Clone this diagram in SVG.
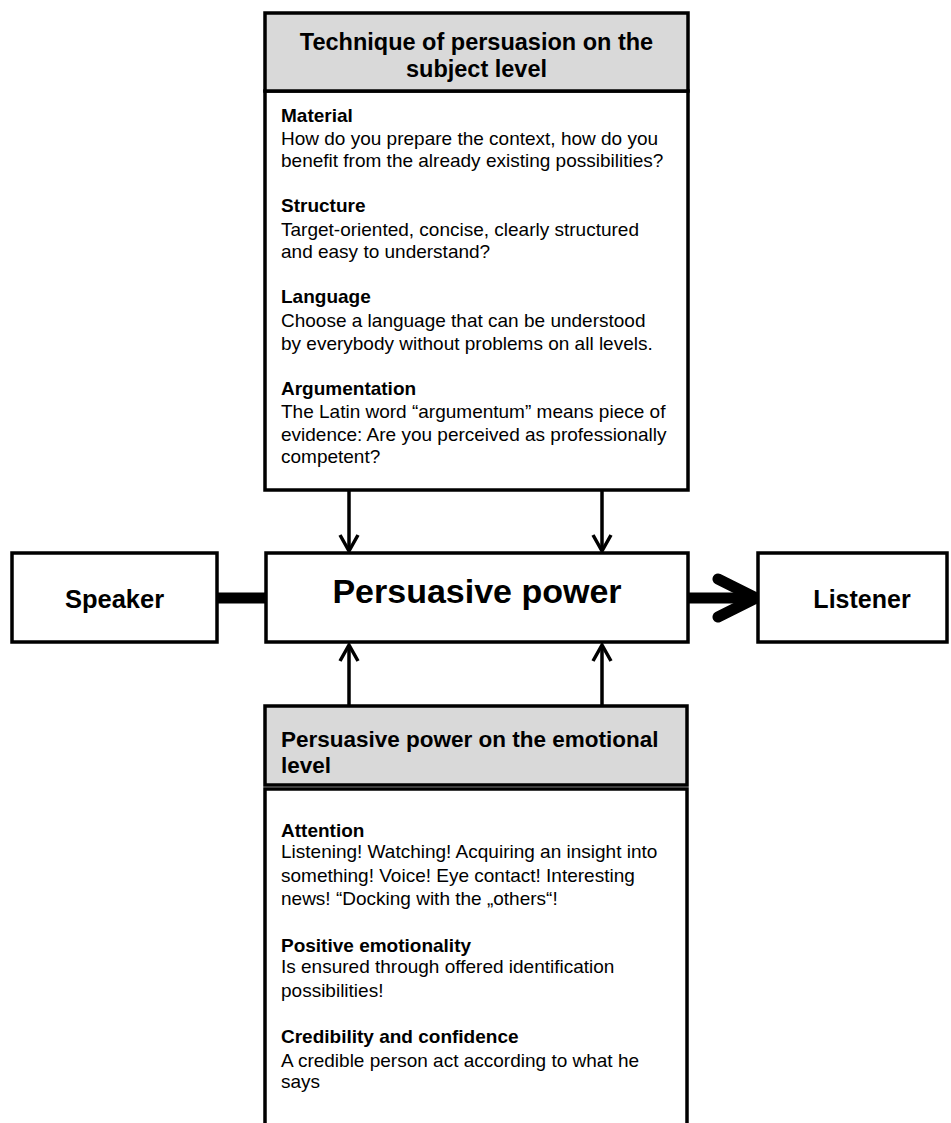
<svg xmlns="http://www.w3.org/2000/svg" width="951" height="1123" viewBox="0 0 951 1123">
<style>
.box{fill:#fff;stroke:#000;stroke-width:3.5}
.hdr{fill:#d9d9d9;stroke:#000;stroke-width:3.5}
text{font-family:"Liberation Sans",Arial,sans-serif;fill:#000}
.b{font-weight:bold}
.body{font-size:19px}
.thin{stroke:#000;stroke-width:3.5;fill:none;stroke-linecap:butt}
.thick{stroke:#000;stroke-width:11;fill:none}
</style>
<g id="connectors">
<line class="thin" x1="349" y1="490" x2="349" y2="550"/>
<polyline class="thin" points="340,535 349,551 358,535"/>
<line class="thin" x1="602" y1="490" x2="602" y2="550"/>
<polyline class="thin" points="593,535 602,551 611,535"/>
<line class="thin" x1="349" y1="706" x2="349" y2="645"/>
<polyline class="thin" points="340,661 349,645 358,661"/>
<line class="thin" x1="602" y1="706" x2="602" y2="645"/>
<polyline class="thin" points="593,661 602,645 611,661"/>
<line class="thick" x1="217" y1="598" x2="266" y2="598"/>
<line class="thick" x1="688" y1="598" x2="752" y2="598"/>
<polyline class="thick" points="718,579 756,598 718,617" stroke-linecap="round" stroke-linejoin="miter"/>
</g>
<g id="top-box">
<rect class="box" x="265" y="91" width="423" height="399"/>
<rect class="hdr" x="265" y="13" width="423" height="78"/>
<text class="b" x="476.5" y="50" font-size="23.5" text-anchor="middle">Technique of persuasion on the</text>
<text class="b" x="476.5" y="77" font-size="23.5" text-anchor="middle">subject level</text>
<g class="body">
<text class="b" x="281" y="122">Material</text>
<text x="281" y="145">How do you prepare the context, how do you</text>
<text x="281" y="167">benefit from the already existing possibilities?</text>
<text class="b" x="281" y="212">Structure</text>
<text x="281" y="236">Target-oriented, concise, clearly structured</text>
<text x="281" y="258">and easy to understand?</text>
<text class="b" x="281" y="303">Language</text>
<text x="281" y="327">Choose a language that can be understood</text>
<text x="281" y="350">by everybody without problems on all levels.</text>
<text class="b" x="281" y="395">Argumentation</text>
<text x="281" y="418">The Latin word “argumentum” means piece of</text>
<text x="281" y="441">evidence: Are you perceived as professionally</text>
<text x="281" y="463">competent?</text>
</g>
</g>
<g id="speaker">
<rect class="box" x="12" y="553" width="205" height="89"/>
<text class="b" x="114.5" y="608" font-size="25.5" text-anchor="middle">Speaker</text>
</g>
<g id="persuasive-power">
<rect class="box" x="266" y="553" width="422" height="89"/>
<text class="b" x="477" y="603" font-size="34" text-anchor="middle">Persuasive power</text>
</g>
<g id="listener">
<rect class="box" x="758" y="553" width="189" height="89"/>
<text class="b" x="862" y="608" font-size="25" text-anchor="middle">Listener</text>
</g>
<g id="bottom-box">
<rect class="box" x="265" y="789" width="422" height="350"/>
<rect class="hdr" x="265" y="706" width="422" height="79"/>
<text class="b" x="281" y="747" font-size="22.5">Persuasive power on the emotional</text>
<text class="b" x="281" y="773" font-size="22.5">level</text>
<g class="body">
<text class="b" x="281" y="837">Attention</text>
<text x="281" y="858">Listening! Watching! Acquiring an insight into</text>
<text x="281" y="882">something! Voice! Eye contact! Interesting</text>
<text x="281" y="905">news! “Docking with the „others“!</text>
<text class="b" x="281" y="952">Positive emotionality</text>
<text x="281" y="973">Is ensured through offered identification</text>
<text x="281" y="997">possibilities!</text>
<text class="b" x="281" y="1043">Credibility and confidence</text>
<text x="281" y="1067">A credible person act according to what he</text>
<text x="281" y="1088">says</text>
</g>
</g>
</svg>
